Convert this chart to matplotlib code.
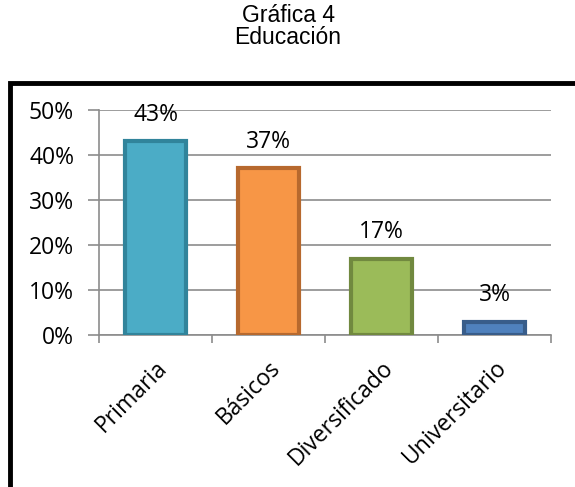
import matplotlib.pyplot as plt
from matplotlib.patches import Rectangle

categories = ["Primaria", "Básicos", "Diversificado", "Universitario"]
values = [43, 37, 17, 3]
fill_colors = ["#4BACC6", "#F79646", "#9BBB59", "#4F81BD"]
edge_colors = ["#31849B", "#B7692E", "#71893F", "#385D8A"]
y_ticks = [0, 10, 20, 30, 40, 50]

W, H = 575, 487
fig = plt.figure(figsize=(W / 100, H / 100), dpi=100)
label_font = "Open Sans"
fs = 16.5

# black frame around chart (right/bottom edges fall off the image)
fig.patches.append(Rectangle((10 / W, -0.1), 1.2, (H - 83) / H + 0.1,
                             transform=fig.transFigure, fill=False,
                             edgecolor="black", linewidth=3.5))

fig.text(288 / W, 1 - 16 / H, "Gráfica 4", ha="center", va="center",
         fontsize=16.5, family="Liberation Sans")
fig.text(288 / W, 1 - 38 / H, "Educación", ha="center", va="center",
         fontsize=16.5, family="Liberation Sans")

ax = fig.add_axes([99 / W, 1 - 335 / H, (551 - 99) / W, (335 - 110) / H])
x = range(len(categories))
ax.bar(x, values, width=0.54, color=fill_colors, edgecolor=edge_colors,
       linewidth=3, zorder=3)
for xi, v in zip(x, values):
    ax.annotate(f"{v}%", (xi, v), xytext=(0, 19), textcoords="offset points",
                ha="center", va="center", fontsize=fs, family=label_font)

ax.set_xlim(-0.5, len(categories) - 0.5)
ax.set_ylim(0, 50)
ax.set_yticks(y_ticks)
ax.set_yticklabels([f"{t}%" for t in y_ticks], fontsize=fs, family=label_font)
ax.yaxis.grid(True, color="#8C8C8C", linewidth=1.2, zorder=0)
ax.set_xticks([i - 0.5 for i in range(len(categories) + 1)], minor=False)
ax.set_xticklabels([])
ax.set_xticks(list(x), minor=True)
ax.set_xticklabels(categories, minor=True, rotation=45, ha="right",
                   rotation_mode="anchor", fontsize=fs, family=label_font)
ax.tick_params(axis="x", which="minor", length=0, pad=15)
ax.tick_params(axis="x", which="major", length=6, color="#8C8C8C", width=1.2)
ax.tick_params(axis="y", length=8, color="#8C8C8C", width=1.2, pad=10)
for side in ["top", "right"]:
    ax.spines[side].set_visible(False)
for side in ["left", "bottom"]:
    ax.spines[side].set_color("#8C8C8C")
    ax.spines[side].set_linewidth(1.2)

fig.savefig("out.png", dpi=100)
